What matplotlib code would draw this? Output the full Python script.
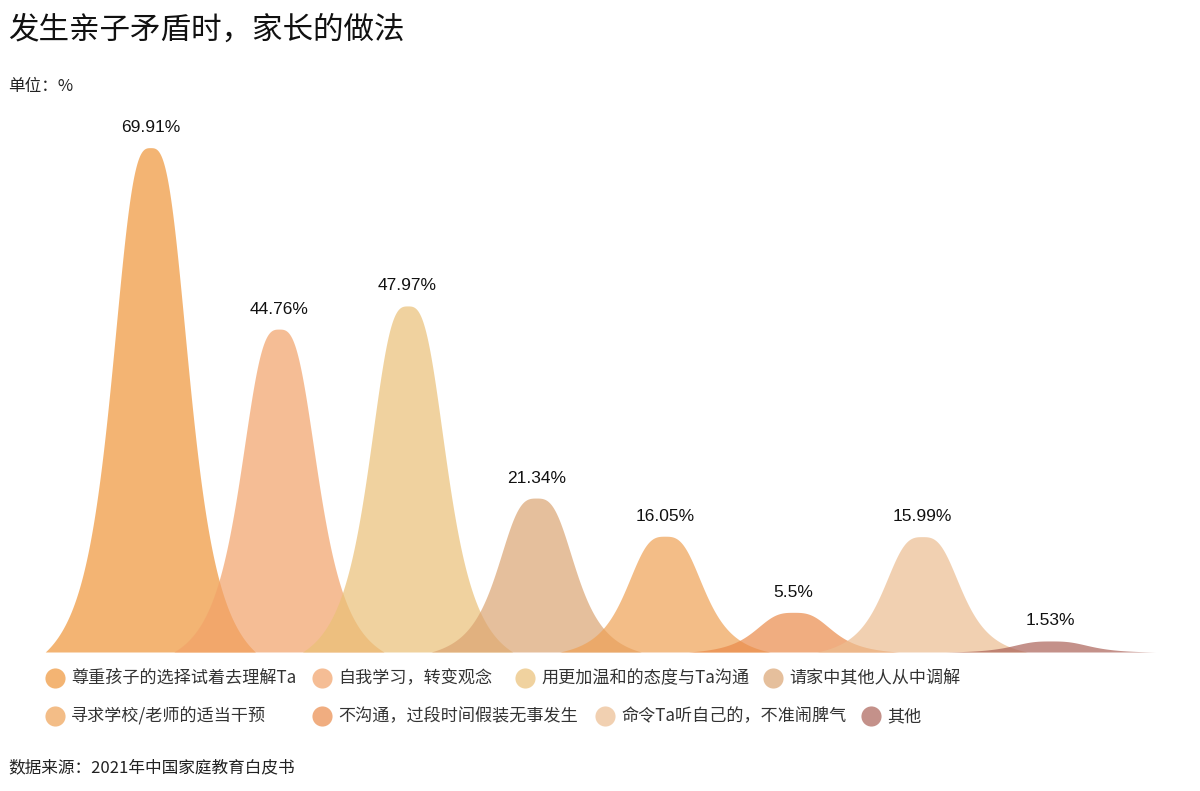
import numpy as np
import matplotlib
matplotlib.use("Agg")
import matplotlib.pyplot as plt
from matplotlib.lines import Line2D

plt.rcParams['font.family'] = ['Noto Sans CJK SC', 'DejaVu Sans']

# data
categories = ["尊重孩子的选择试着去理解Ta", "自我学习，转变观念", "用更加温和的态度与Ta沟通",
              "请家中其他人从中调解", "寻求学校/老师的适当干预", "不沟通，过段时间假装无事发生",
              "命令Ta听自己的，不准闹脾气", "其他"]
values = [69.91, 44.76, 47.97, 21.34, 16.05, 5.5, 15.99, 1.53]
colors = ["#EE9538", "#F2A269", "#EAC076", "#DBA472", "#EEA155", "#EA8B4A", "#ECBD91", "#AB6258"]

W, H = 1200, 791
fig = plt.figure(figsize=(W / 100, H / 100), dpi=100)
fig.patch.set_facecolor("white")

# plot area in pixels: x 86..1115, baseline at y=652, value 70 at y=147
ax = fig.add_axes([86 / W, (H - 652) / H, (1115 - 86) / W, (652 - 147) / H])
ax.set_xlim(-0.5, len(values) - 0.5)
ax.set_ylim(0, 70)
ax.axis("off")


def mountain(d):
    # rounded top, steep flanks, soft tail reaching zero at |d| = 1
    f = 1 / (1 + (np.abs(d) / 0.41) ** 3)
    f1 = 1 / (1 + (1 / 0.41) ** 3)
    return (f - f1) / (1 - f1)


# each mountain is wider than its slot so neighbours overlap
half = 0.817
for i, (v, c) in enumerate(zip(values, colors)):
    x = np.linspace(i - half, i + half, 400)
    y = v * mountain((x - i) / half)
    poly = ax.fill_between(x, 0, y, color=c, alpha=0.7, lw=0)
    poly.set_clip_on(False)
    ax.annotate(f"{v}%", (i, v), xytext=(0, 9), textcoords="offset points",
                ha="center", va="bottom", fontsize=12.5, family=["Liberation Sans"],
                color="#111111")

# titles
fig.text(8 / W, 1 - 30 / H, "发生亲子矛盾时，家长的做法", fontsize=22, va="center",
         ha="left", color="#111111")
fig.text(8 / W, 1 - 87 / H, "单位：%", fontsize=12, va="center", ha="left", color="#222222")
fig.text(8 / W, 1 - 768 / H, "数据来源：2021年中国家庭教育白皮书", fontsize=12, va="center",
         ha="left", color="#222222")

# legend laid out in two rows like the reference
leg_x = [55, 322, 525, 773, 55, 322, 605, 871]
leg_y = [678, 678, 678, 678, 716, 716, 716, 716]
for name, c, lx, ly in zip(categories, colors, leg_x, leg_y):
    fig.add_artist(Line2D([lx / W], [1 - ly / H], marker="o", markersize=14.5,
                          markerfacecolor=c, markeredgewidth=0, alpha=0.7,
                          transform=fig.transFigure))
    fig.text((lx + 16) / W, 1 - ly / H, name, fontsize=12.3, va="center", ha="left",
             color="#333333")

fig.savefig("out.png", dpi=100)
